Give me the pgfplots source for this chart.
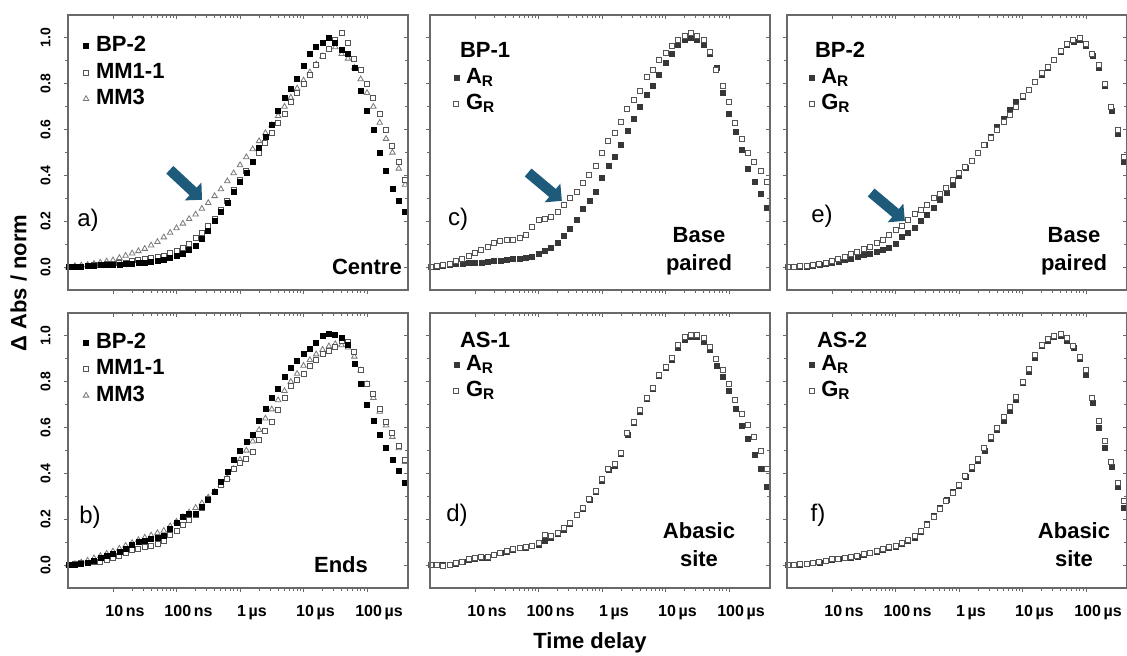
\documentclass[border=0pt]{standalone}
\usepackage{fontspec}
\setmainfont{Liberation Sans}
\usepackage{pgfplots}
\usepackage{pgfplotstable}
\pgfplotsset{compat=1.18}
\usetikzlibrary{shapes.arrows}

\definecolor{axgray}{RGB}{105,105,105}
\definecolor{mkgray}{RGB}{85,85,85}
\definecolor{trigray}{RGB}{120,120,120}
\definecolor{argray}{RGB}{55,55,55}
\definecolor{arrowc}{RGB}{30,90,122}

\newcommand{\xtfont}{\bfseries\fontsize{8}{9}\selectfont}
\newcommand{\ytfont}{\bfseries\fontsize{7}{8}\selectfont}
\newcommand{\legfont}{\bfseries\fontsize{11}{13}\selectfont}
\newcommand{\annfont}{\bfseries\fontsize{11}{14}\selectfont}
\newcommand{\panfont}{\fontsize{12}{14}\selectfont}

\tikzset{arr/.style={single arrow, fill=arrowc, draw=none, minimum height=22pt,
    single arrow head extend=3.5pt, inner sep=2.4pt}}

% time in ns
\pgfplotstableread{
x bp mm1 mm3
2.00 0.000 0.000 0.000
2.51 0.000 0.000 0.005
3.16 0.000 0.000 0.008
3.98 0.005 0.005 0.010
5.01 0.005 0.008 0.015
6.31 0.008 0.010 0.020
7.94 0.010 0.012 0.025
10 0.010 0.015 0.030
12.6 0.012 0.018 0.040
15.8 0.013 0.020 0.050
20.0 0.015 0.025 0.060
25.1 0.018 0.030 0.070
31.6 0.020 0.035 0.080
39.8 0.024 0.040 0.095
50.1 0.028 0.045 0.110
63.1 0.033 0.050 0.130
79.4 0.040 0.060 0.150
100 0.050 0.070 0.170
126 0.060 0.085 0.190
158 0.075 0.100 0.210
200 0.095 0.125 0.230
251 0.125 0.150 0.255
316 0.160 0.180 0.280
398 0.200 0.210 0.310
501 0.240 0.250 0.340
631 0.280 0.290 0.375
794 0.330 0.335 0.410
1000 0.370 0.380 0.445
1259 0.410 0.420 0.480
1585 0.460 0.460 0.515
1995 0.520 0.500 0.550
2512 0.570 0.540 0.585
3162 0.620 0.585 0.620
3981 0.680 0.630 0.660
5012 0.740 0.670 0.700
6310 0.780 0.720 0.740
7943 0.820 0.760 0.780
10000 0.880 0.800 0.815
12589 0.930 0.840 0.850
15849 0.960 0.880 0.885
19953 0.980 0.920 0.920
25119 1.000 0.950 0.950
31623 0.980 0.990 0.960
39811 0.950 1.020 0.930
50119 0.930 0.980 0.910
63096 0.870 0.910 0.870
79433 0.770 0.860 0.820
100000 0.680 0.800 0.760
125893 0.600 0.740 0.700
158489 0.500 0.670 0.630
199526 0.420 0.600 0.560
251189 0.340 0.530 0.500
316228 0.290 0.460 0.430
398107 0.240 0.380 0.360
}\tabA

\pgfplotstableread{
x bp mm1 mm3
2.00 0.000 0.000 0.000
2.51 0.003 0.003 0.005
3.16 0.007 0.008 0.012
3.98 0.010 0.010 0.020
5.01 0.020 0.012 0.030
6.31 0.030 0.015 0.040
7.94 0.040 0.022 0.050
10 0.050 0.030 0.060
12.6 0.060 0.040 0.072
15.8 0.070 0.052 0.085
20.0 0.090 0.064 0.097
25.1 0.100 0.072 0.110
31.6 0.108 0.078 0.120
39.8 0.113 0.085 0.130
50.1 0.118 0.092 0.140
63.1 0.130 0.105 0.150
79.4 0.160 0.130 0.170
100 0.185 0.150 0.190
126 0.210 0.175 0.210
158 0.226 0.195 0.230
200 0.226 0.220 0.250
251 0.255 0.250 0.270
316 0.285 0.290 0.295
398 0.320 0.320 0.320
501 0.365 0.350 0.350
631 0.405 0.375 0.380
794 0.460 0.420 0.420
1000 0.500 0.445 0.460
1259 0.540 0.465 0.500
1585 0.570 0.495 0.540
1995 0.630 0.545 0.590
2512 0.680 0.585 0.640
3162 0.730 0.625 0.680
3981 0.770 0.675 0.720
5012 0.820 0.730 0.760
6310 0.860 0.780 0.800
7943 0.890 0.810 0.835
10000 0.920 0.835 0.870
12589 0.945 0.870 0.895
15849 0.970 0.895 0.920
19953 1.000 0.920 0.940
25119 1.010 0.935 0.955
31623 1.005 0.950 0.965
39811 0.990 0.980 0.960
50119 0.960 0.975 0.950
63096 0.880 0.930 0.910
79433 0.790 0.850 0.850
100000 0.700 0.790 0.790
125893 0.630 0.745 0.730
158489 0.570 0.680 0.670
199526 0.510 0.625 0.610
251189 0.460 0.575 0.560
316228 0.410 0.520 0.510
398107 0.360 0.460 0.450
}\tabB

\pgfplotstableread{
x ar gr
2.00 0.000 0.000
2.51 0.000 0.005
3.16 0.005 0.010
3.98 0.010 0.015
5.01 0.015 0.025
6.31 0.016 0.035
7.94 0.018 0.047
10 0.020 0.060
12.6 0.020 0.075
15.8 0.023 0.090
20.0 0.026 0.105
25.1 0.029 0.113
31.6 0.031 0.118
39.8 0.034 0.120
50.1 0.037 0.125
63.1 0.040 0.140
79.4 0.046 0.175
100 0.057 0.205
126 0.070 0.210
158 0.083 0.220
200 0.105 0.240
251 0.135 0.270
316 0.165 0.300
398 0.205 0.330
501 0.255 0.365
631 0.290 0.400
794 0.330 0.440
1000 0.390 0.500
1259 0.440 0.550
1585 0.480 0.585
1995 0.535 0.635
2512 0.595 0.690
3162 0.645 0.730
3981 0.700 0.770
5012 0.750 0.830
6310 0.790 0.860
7943 0.840 0.905
10000 0.890 0.935
12589 0.930 0.965
15849 0.970 0.990
19953 0.990 1.010
25119 1.000 1.020
31623 0.990 1.010
39811 0.970 0.990
50119 0.930 0.940
63096 0.870 0.860
79433 0.760 0.790
100000 0.670 0.720
125893 0.590 0.630
158489 0.510 0.560
199526 0.430 0.500
251189 0.370 0.460
316228 0.320 0.420
398107 0.260 0.370
}\tabC

\pgfplotstableread{
x ar gr
2.00 0.000 0.000
2.51 0.000 0.000
3.16 0.000 -0.005
3.98 0.000 0.000
5.01 0.005 0.008
6.31 0.013 0.015
7.94 0.022 0.025
10 0.028 0.032
12.6 0.031 0.035
15.8 0.034 0.036
20.0 0.043 0.045
25.1 0.052 0.055
31.6 0.058 0.062
39.8 0.066 0.070
50.1 0.074 0.076
63.1 0.077 0.080
79.4 0.083 0.085
100 0.090 0.095
126 0.105 0.130
158 0.120 0.125
200 0.135 0.140
251 0.155 0.160
316 0.180 0.185
398 0.220 0.220
501 0.245 0.250
631 0.285 0.290
794 0.320 0.325
1000 0.370 0.375
1259 0.415 0.420
1585 0.435 0.440
1995 0.485 0.490
2512 0.570 0.575
3162 0.620 0.625
3981 0.670 0.675
5012 0.725 0.730
6310 0.770 0.775
7943 0.825 0.830
10000 0.860 0.865
12589 0.895 0.905
15849 0.950 0.960
19953 0.985 0.995
25119 0.995 1.005
31623 0.995 1.005
39811 0.975 0.990
50119 0.940 0.950
63096 0.870 0.900
79433 0.820 0.850
100000 0.760 0.790
125893 0.680 0.720
158489 0.610 0.660
199526 0.550 0.610
251189 0.480 0.560
316228 0.420 0.500
398107 0.340 0.420
}\tabD

\pgfplotstableread{
x ar gr
2.00 0.000 0.000
2.51 0.000 0.000
3.16 0.000 0.003
3.98 0.003 0.007
5.01 0.005 0.010
6.31 0.008 0.015
7.94 0.013 0.020
10 0.018 0.027
12.6 0.024 0.035
15.8 0.030 0.046
20.0 0.038 0.056
25.1 0.046 0.066
31.6 0.053 0.078
39.8 0.060 0.090
50.1 0.066 0.105
63.1 0.074 0.120
79.4 0.085 0.140
100 0.100 0.160
126 0.130 0.180
158 0.150 0.205
200 0.170 0.230
251 0.200 0.250
316 0.230 0.270
398 0.260 0.300
501 0.295 0.320
631 0.325 0.345
794 0.360 0.380
1000 0.400 0.410
1259 0.435 0.435
1585 0.465 0.465
1995 0.500 0.500
2512 0.535 0.535
3162 0.570 0.565
3981 0.610 0.600
5012 0.645 0.635
6310 0.685 0.665
7943 0.720 0.700
10000 0.745 0.745
12589 0.775 0.775
15849 0.810 0.810
19953 0.840 0.845
25119 0.870 0.875
31623 0.905 0.905
39811 0.940 0.945
50119 0.970 0.975
63096 0.985 0.990
79433 0.990 1.000
100000 0.965 0.975
125893 0.920 0.930
158489 0.870 0.880
199526 0.790 0.800
251189 0.680 0.700
316228 0.580 0.600
398107 0.460 0.480
}\tabE

\pgfplotstableread{
x ar gr
2.00 0.000 0.000
2.51 0.000 0.000
3.16 0.000 0.003
3.98 0.005 0.006
5.01 0.009 0.010
6.31 0.012 0.014
7.94 0.017 0.019
10 0.023 0.025
12.6 0.027 0.028
15.8 0.030 0.032
20.0 0.034 0.036
25.1 0.038 0.040
31.6 0.044 0.047
39.8 0.053 0.055
50.1 0.060 0.062
63.1 0.068 0.070
79.4 0.075 0.078
100 0.082 0.085
126 0.092 0.095
158 0.105 0.110
200 0.120 0.125
251 0.145 0.150
316 0.180 0.175
398 0.215 0.210
501 0.250 0.245
631 0.285 0.280
794 0.320 0.315
1000 0.345 0.350
1259 0.385 0.390
1585 0.420 0.430
1995 0.455 0.465
2512 0.500 0.510
3162 0.550 0.560
3981 0.590 0.600
5012 0.630 0.645
6310 0.675 0.690
7943 0.720 0.735
10000 0.795 0.800
12589 0.845 0.855
15849 0.905 0.915
19953 0.955 0.960
25119 0.980 0.985
31623 0.995 1.000
39811 1.000 1.010
50119 0.980 0.990
63096 0.950 0.955
79433 0.900 0.910
100000 0.830 0.850
125893 0.710 0.730
158489 0.600 0.630
199526 0.510 0.540
251189 0.430 0.450
316228 0.340 0.360
398107 0.250 0.280
}\tabF

\pgfplotsset{
  every axis/.append style={
    scale only axis, width=170pt, height=137.5pt, anchor=south west,
    xmin=1.955, xmax=4.42e5, ymin=-0.1, ymax=1.1,
    xtick={10,100,1000,10000,100000},
    ytick={0,0.2,0.4,0.6,0.8,1.0},
    minor ytick={0.1,0.3,0.5,0.7,0.9},
    major tick length=2.2pt, minor tick length=1.3pt,
    tick style={axgray, line width=0.5pt},
    axis line style={axgray, line width=0.8pt},
    legend cell align=left,
    legend style={draw=none, fill=none, inner sep=0pt, outer sep=0pt,
      font=\legfont, column sep=3pt,
      nodes={inner sep=0.6pt, text height=8.8pt, text depth=3.2pt, anchor=west}},
    legend image code/.code={\draw[only marks,##1] plot coordinates {(0pt,0pt)};},
  },
  mainax/.style={tick pos=left, tick align=outside},
  mirrax/.style={tick pos=right, tick align=inside, xticklabels={}, yticklabels={}},
  nolab/.style={xticklabels={}, yticklabels={}},
  xlab/.style={xticklabels={10\,ns,100\,ns,1\,µs,10\,µs,100\,µs},
    xticklabel style={font=\xtfont, xshift=6pt, yshift=-3pt}},
  xnolab/.style={xticklabels={}},
  ylab/.style={yticklabels={0.0,0.2,0.4,0.6,0.8,1.0}, yticklabel shift=3pt,
    yticklabel style={font=\ytfont, rotate=90, anchor=south}},
  ynolab/.style={yticklabels={}},
  fblk/.style={only marks, mark=square*, mark size=1.25pt,
    mark options={draw=black, fill=black, line width=0.3pt}},
  fgr/.style={only marks, mark=square*, mark size=1.25pt,
    mark options={draw=argray, fill=argray, line width=0.3pt}},
  osq/.style={only marks, mark=square*, mark size=1.25pt,
    mark options={draw=mkgray, fill=white, line width=0.45pt}},
  otri/.style={only marks, mark=triangle*, mark size=1.6pt,
    mark options={draw=trigray, fill=white, line width=0.4pt}},
}

\begin{document}
\begin{tikzpicture}
\useasboundingbox (0pt,0pt) rectangle (563.5pt,327.5pt);

% ---------- panel a ----------
\begin{axis}[xmode=log, mainax, ylab, xnolab, at={(34pt,182.5pt)}, reverse legend,
  legend style={at={(0.045,0.935)}, anchor=north west}]
\addplot[otri] table[x=x,y=mm3]{\tabA}; \addlegendentry{MM3}
\addplot[osq] table[x=x,y=mm1]{\tabA}; \addlegendentry{MM1-1}
\addplot[fblk] table[x=x,y=bp]{\tabA}; \addlegendentry{BP-2}
\end{axis}
\begin{axis}[xmode=log, mirrax, at={(34pt,182.5pt)}]
\addplot[draw=none] coordinates {(10,0)};
\end{axis}

% ---------- panel c ----------
\begin{axis}[xmode=log, mainax, nolab, at={(215pt,182.5pt)},
  legend style={at={(0.07,0.82)}, anchor=north west}]
\addplot[fgr] table[x=x,y=ar]{\tabC}; \addlegendentry{A\textsubscript{R}}
\addplot[osq] table[x=x,y=gr]{\tabC}; \addlegendentry{G\textsubscript{R}}
\end{axis}
\begin{axis}[xmode=log, mirrax, at={(215pt,182.5pt)}]
\addplot[draw=none] coordinates {(10,0)};
\end{axis}

% ---------- panel e ----------
\begin{axis}[xmode=log, mainax, nolab, at={(393.5pt,182.5pt)},
  legend style={at={(0.065,0.82)}, anchor=north west}]
\addplot[fgr] table[x=x,y=ar]{\tabE}; \addlegendentry{A\textsubscript{R}}
\addplot[osq] table[x=x,y=gr]{\tabE}; \addlegendentry{G\textsubscript{R}}
\end{axis}
\begin{axis}[xmode=log, mirrax, at={(393.5pt,182.5pt)}]
\addplot[draw=none] coordinates {(10,0)};
\end{axis}

% ---------- panel b ----------
\begin{axis}[xmode=log, mainax, ylab, xlab, at={(34pt,33.5pt)}, reverse legend,
  legend style={at={(0.045,0.94)}, anchor=north west}]
\addplot[otri] table[x=x,y=mm3]{\tabB}; \addlegendentry{MM3}
\addplot[osq] table[x=x,y=mm1]{\tabB}; \addlegendentry{MM1-1}
\addplot[fblk] table[x=x,y=bp]{\tabB}; \addlegendentry{BP-2}
\end{axis}
\begin{axis}[xmode=log, mirrax, at={(34pt,33.5pt)}]
\addplot[draw=none] coordinates {(10,0)};
\end{axis}

% ---------- panel d ----------
\begin{axis}[xmode=log, mainax, xlab, ynolab, at={(215pt,33.5pt)},
  legend style={at={(0.07,0.86)}, anchor=north west}]
\addplot[fgr] table[x=x,y=ar]{\tabD}; \addlegendentry{A\textsubscript{R}}
\addplot[osq] table[x=x,y=gr]{\tabD}; \addlegendentry{G\textsubscript{R}}
\end{axis}
\begin{axis}[xmode=log, mirrax, at={(215pt,33.5pt)}]
\addplot[draw=none] coordinates {(10,0)};
\end{axis}

% ---------- panel f ----------
\begin{axis}[xmode=log, mainax, xlab, ynolab, at={(393.5pt,33.5pt)},
  legend style={at={(0.065,0.86)}, anchor=north west}]
\addplot[fgr] table[x=x,y=ar]{\tabF}; \addlegendentry{A\textsubscript{R}}
\addplot[osq] table[x=x,y=gr]{\tabF}; \addlegendentry{G\textsubscript{R}}
\end{axis}
\begin{axis}[xmode=log, mirrax, at={(393.5pt,33.5pt)}]
\addplot[draw=none] coordinates {(10,0)};
\end{axis}

% ---------- titles of legends ----------
\node[font=\legfont, anchor=west] at (226.5pt,302.5pt) {BP-1};
\node[font=\legfont, anchor=west] at (404pt,302.5pt) {BP-2};
\node[font=\legfont, anchor=west] at (226.5pt,157.5pt) {AS-1};
\node[font=\legfont, anchor=west] at (405pt,157.5pt) {AS-2};

% ---------- panel letters ----------
\node[font=\panfont] at (44pt,217.5pt) {a)};
\node[font=\panfont] at (229pt,218pt) {c)};
\node[font=\panfont] at (411pt,219.5pt) {e)};
\node[font=\panfont] at (45pt,69pt) {b)};
\node[font=\panfont] at (228.5pt,70pt) {d)};
\node[font=\panfont] at (409pt,70pt) {f)};

% ---------- annotations ----------
\node[font=\annfont, anchor=west] at (162.5pt,194pt) {Centre};
\node[font=\annfont, align=center] at (349.5pt,202pt) {Base\\paired};
\node[font=\annfont, align=center] at (537pt,202pt) {Base\\paired};
\node[font=\annfont] at (170.5pt,45pt) {Ends};
\node[font=\annfont, align=center] at (349.5pt,55pt) {Abasic\\site};
\node[font=\annfont, align=center] at (537pt,55pt) {Abasic\\site};

% ---------- arrows ----------
\node[arr, rotate=-43] at (92pt,236pt) {};
\node[arr, rotate=-40] at (271.5pt,235pt) {};
\node[arr, rotate=-40] at (443pt,225pt) {};

% ---------- axis titles ----------
\node[font=\annfont, rotate=90] at (9.25pt,186pt) {Δ Abs / norm};
\node[font=\annfont] at (295pt,6pt) {Time delay};
\end{tikzpicture}
\end{document}
